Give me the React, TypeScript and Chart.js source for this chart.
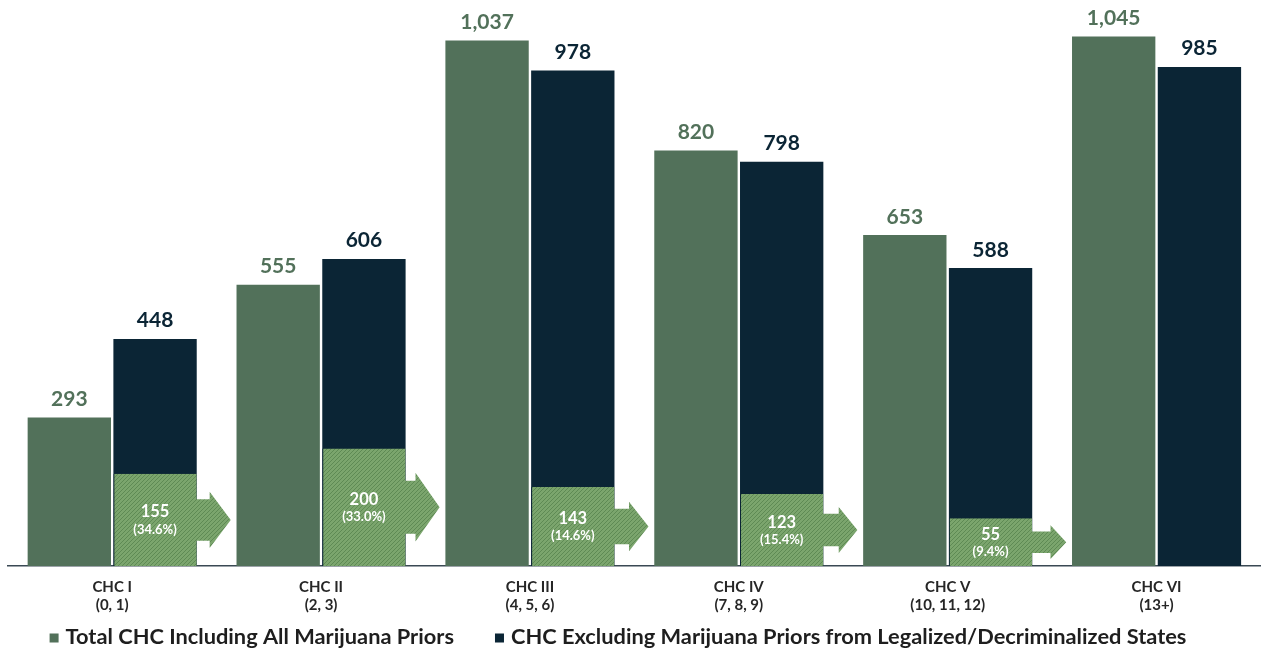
import React, { useEffect, useRef } from 'react';
import { Chart, registerables } from 'chart.js';

Chart.register(...registerables);

// ---- data ----
const categories = ['CHC I', 'CHC II', 'CHC III', 'CHC IV', 'CHC V', 'CHC VI'];
const pointRanges = ['(0, 1)', '(2, 3)', '(4, 5, 6)', '(7, 8, 9)', '(10, 11, 12)', '(13+)'];
const totalIncludingAll = [293, 555, 1037, 820, 653, 1045];
const excludingLegalized = [448, 606, 978, 798, 588, 985];
// overlay on the dark bars: label values and the height the overlay is drawn at
const shiftedCount = [155, 200, 143, 123, 55, null];
const shiftedPercent = [34.6, 33.0, 14.6, 15.4, 9.4, null];
const shiftedBarHeight = [182, 232, 156, 142, 94, null];
const seriesLabels = [
  'Total CHC Including All Marijuana Priors',
  'CHC Excluding Marijuana Priors from Legalized/Decriminalized States',
];

const GREEN = '#52715a';
const NAVY = '#0b2535';
const FONT = 'Lato, "Open Sans", sans-serif';

function makeHatch(ctx: CanvasRenderingContext2D) {
  const c = document.createElement('canvas');
  c.width = 4;
  c.height = 4;
  const g = c.getContext('2d')!;
  g.fillStyle = '#7ba56d';
  g.fillRect(0, 0, 4, 4);
  g.strokeStyle = '#5e8a54';
  g.lineWidth = 1;
  g.beginPath();
  g.moveTo(0, 4);
  g.lineTo(4, 0);
  g.moveTo(-1, 1);
  g.lineTo(1, -1);
  g.moveTo(3, 5);
  g.lineTo(5, 3);
  g.stroke();
  return ctx.createPattern(c, 'repeat')!;
}

export default function App() {
  const ref = useRef<HTMLCanvasElement>(null);

  useEffect(() => {
    const canvas = ref.current!;
    const ctx = canvas.getContext('2d')!;
    const hatch = makeHatch(ctx);

    const annotate = {
      id: 'annotate',
      afterDatasetsDraw(chart: any) {
        const c = chart.ctx as CanvasRenderingContext2D;
        // overlay arrows + labels
        const om = chart.getDatasetMeta(2);
        om.data.forEach((bar: any, i: number) => {
          if (shiftedBarHeight[i] == null) return;
          const p = bar.getProps(['x', 'y', 'base', 'width'], true);
          const right = p.x + p.width / 2;
          const h = p.base - p.y;
          const cy = (p.y + p.base) / 2;
          const stemH = 0.45 * h;
          const headH = 10 + 0.5 * h;
          const headL = 10 + 0.12 * h;
          const total = 34;
          c.save();
          c.beginPath();
          c.moveTo(right - 1, cy - stemH / 2);
          c.lineTo(right + total - headL, cy - stemH / 2);
          c.lineTo(right + total - headL, cy - headH / 2);
          c.lineTo(right + total, cy);
          c.lineTo(right + total - headL, cy + headH / 2);
          c.lineTo(right + total - headL, cy + stemH / 2);
          c.lineTo(right - 1, cy + stemH / 2);
          c.closePath();
          c.fillStyle = hatch;
          c.fill();
          c.fillStyle = '#ffffff';
          c.textAlign = 'center';
          c.textBaseline = 'alphabetic';
          c.font = `bold 16.5px ${FONT}`;
          c.fillText(String(shiftedCount[i]), p.x, cy - 2.5);
          c.font = `bold 13px ${FONT}`;
          c.fillText(`(${(shiftedPercent[i] as number).toFixed(1)}%)`, p.x, cy + 14);
          c.restore();
        });
        // value labels above bars
        [0, 1].forEach((di) => {
          const meta = chart.getDatasetMeta(di);
          meta.data.forEach((bar: any, i: number) => {
            const v = chart.data.datasets[di].data[i] as number;
            c.save();
            c.font = `bold 21px ${FONT}`;
            c.fillStyle = di === 0 ? GREEN : NAVY;
            c.textAlign = 'center';
            c.textBaseline = 'alphabetic';
            c.fillText(v.toLocaleString('en-US'), bar.x, bar.y - 11.5);
            c.restore();
          });
        });
      },
      afterDraw(chart: any) {
        // legend
        const c = chart.ctx as CanvasRenderingContext2D;
        const colors = [GREEN, NAVY];
        c.save();
        c.font = `bold 21.8px ${FONT}`;
        const box = 9;
        const gapBox = 7;
        const gapItem = 41;
        const widths = seriesLabels.map((t) => c.measureText(t).width);
        const total = widths.reduce((a, w) => a + box + gapBox + w, 0) + gapItem;
        let x = 618 - total / 2;
        const cy = chart.chartArea.bottom + 71;
        seriesLabels.forEach((t, i) => {
          c.fillStyle = colors[i];
          c.fillRect(x, cy - 4.5 + 1, box, box);
          x += box + gapBox;
          c.fillStyle = '#1e1e1e';
          c.textAlign = 'left';
          c.textBaseline = 'middle';
          c.fillText(t, x, cy);
          x += widths[i] + gapItem;
        });
        c.restore();
      },
    };

    const chart = new Chart(canvas, {
      type: 'bar',
      data: {
        labels: categories.map((c, i) => [c, pointRanges[i]]),
        datasets: [
          {
            label: seriesLabels[0],
            data: totalIncludingAll,
            backgroundColor: GREEN,
            stack: 'a',
            order: -2,
            barPercentage: 0.972,
            categoryPercentage: 0.821,
          },
          {
            label: seriesLabels[1],
            data: excludingLegalized,
            backgroundColor: NAVY,
            stack: 'b',
            order: 0,
            barPercentage: 0.972,
            categoryPercentage: 0.821,
          },
          {
            label: 'shifted',
            data: shiftedBarHeight,
            backgroundColor: hatch,
            borderColor: NAVY,
            borderWidth: { left: 1, top: 0, right: 0, bottom: 0 },
            borderSkipped: false,
            stack: 'b',
            order: -1,
            barPercentage: 0.972,
            categoryPercentage: 0.821,
          },
        ] as any,
      },
      plugins: [annotate],
      options: {
        animation: false,
        responsive: true,
        maintainAspectRatio: false,
        layout: { padding: { left: 7.75, right: -3.75, top: 0, bottom: 34 } },
        plugins: {
          tooltip: { enabled: false },
          title: { display: false },
          legend: { display: false },
        },
        scales: {
          x: {
            grid: { display: false, drawTicks: false },
            border: { display: true, color: '#3a4954', width: 1.5 },
            ticks: {
              color: '#262626',
              padding: 12,
              font: { family: FONT, size: 15, weight: 'bold', lineHeight: 1.2 },
              maxRotation: 0,
              autoSkip: false,
            },
            afterFit: (s: any) => {
              s.height = 50;
            },
          },
          y: {
            display: false,
            stacked: false,
            min: 0,
            max: 1117,
          },
        },
      } as any,
    });
    return () => chart.destroy();
  }, []);

  return (
    <div style={{ position: 'absolute', left: 0, top: 0, width: 1261, height: 650, background: '#ffffff' }}>
      <canvas ref={ref} />
    </div>
  );
}
